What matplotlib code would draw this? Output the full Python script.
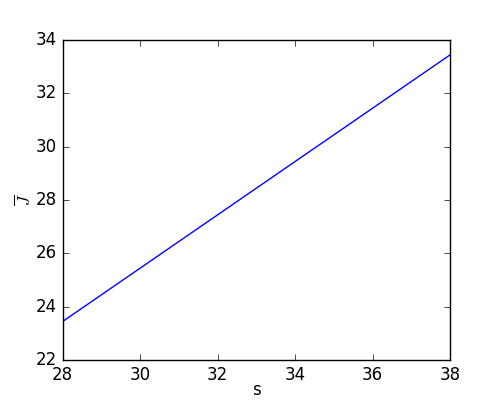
import numpy as np
import matplotlib
matplotlib.use('Agg')
import matplotlib.pyplot as plt

plt.style.use('classic')

# values
s_vals = [28, 30, 32, 34, 36, 38]
J_vals = [23.44, 25.44, 27.44, 29.44, 31.44, 33.44]

fig = plt.figure(figsize=(5, 4), dpi=100, facecolor='white')
ax = fig.add_subplot(111)
ax.plot(s_vals, J_vals, color='b', linewidth=1.0)

ax.set_xlim(28, 38)
ax.set_ylim(22, 34)
ax.set_xlabel('s', labelpad=-1.5)
ax.set_ylabel(r'$\overline{J}$', labelpad=1.5)

fig.savefig('out.png', dpi=100, facecolor='white')
